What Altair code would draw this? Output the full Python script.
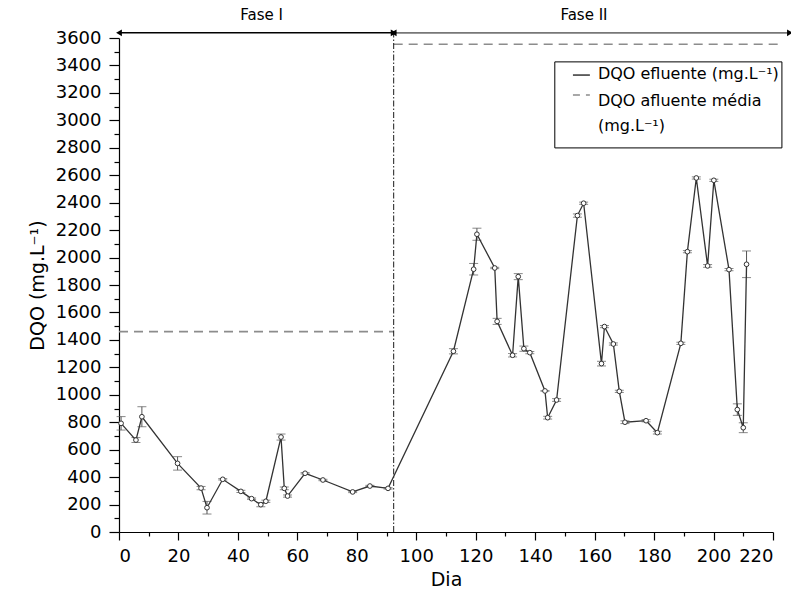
import altair as alt
import pandas as pd

# ---- data ----
dias = [0.7, 5.7, 7.7, 19.7, 27.6, 29.6, 34.9, 41.0, 44.6, 47.7,
        49.4, 54.5, 55.6, 56.7, 62.6, 68.6, 78.6, 84.4, 90.5,
        112.5, 119.3, 120.4, 126.4, 127.2, 132.4, 134.3, 136.2, 138.2, 143.3,
        144.2, 147.2, 154.2, 156.3, 162.3, 163.3, 166.3, 168.3, 170.2, 177.3,
        181.1, 189.0, 191.2, 194.2, 198.0, 200.1, 205.2, 208.0, 210.0, 211.1]
dqo = [792, 670, 840, 500, 320, 177, 384, 296, 243, 199,
       224, 692, 318, 262, 428, 379, 292, 335, 318,
       1317, 1915, 2170, 1924, 1535, 1288, 1861, 1336, 1307, 1028,
       833, 962, 2306, 2396, 1227, 1497, 1370, 1025, 800, 811,
       724, 1375, 2043, 2580, 1939, 2563, 1912, 892, 760, 1951]
erro = [49, 18, 73, 49, 12, 46, 5, 8, 5, 15,
        8, 22, 10, 8, 5, 5, 5, 5, 5,
        19, 42, 44, 5, 22, 12, 22, 19, 8, 0,
        10, 10, 12, 8, 17, 8, 8, 8, 10, 8,
        10, 8, 8, 8, 10, 8, 8, 42, 36, 97]

fase_limite = 92.4
media_x = [0, fase_limite, fase_limite, 223]
media_y = [1460, 1460, 3555, 3555]
media_grupo = ["I", "I", "II", "II"]

seta_y = 3638
seta_x = [0, fase_limite, fase_limite, 225.7]
seta_grupo = ["I", "I", "II", "II"]
seta_forma = ["triangle-left", "triangle-right", "triangle-left", "triangle-right"]

fase_rotulos = ["Fase I", "Fase II"]
fase_rot_x = [48, 156.4]
fase_rot_y = 3765

# legend box (in data units)
leg_x = [146.6, 223]
leg_y = [3426, 2799]
leg_amostra_x = [152.7, 158.4]
leg_amostra_y = [3330, 3185]
leg_texto_x = 161.1
leg_textos = ["DQO efluente (mg.L⁻¹)", "DQO afluente média", "(mg.L⁻¹)"]
leg_texto_y = [3335, 3140, 2960]

FONT = "DejaVu Sans"

df = pd.DataFrame({"dia": dias, "dqo": dqo, "erro": erro})
df["lo"] = df["dqo"] - df["erro"]
df["hi"] = df["dqo"] + df["erro"]

xs = alt.Scale(domain=[0, 220], nice=False, zero=False)
ys = alt.Scale(domain=[0, 3600], nice=False, zero=False)


def X(field, axis=None):
    return alt.X(field, type="quantitative", scale=xs, axis=axis)


def Y(field, axis=None):
    return alt.Y(field, type="quantitative", scale=ys, axis=axis)


x_axis_major = alt.Axis(values=list(range(0, 221, 20)), title="Dia", orient="bottom", format="d",
                        tickSize=8, labelPadding=7, titlePadding=5, labelFontSize=18)
x_axis_minor = alt.Axis(values=list(range(10, 221, 20)), title=None, labels=False,
                        domain=False, orient="bottom", tickSize=4)
y_axis_major = alt.Axis(values=list(range(0, 3601, 200)), title="DQO (mg.L⁻¹)", orient="left", format="d",
                        tickSize=10, labelPadding=8, titlePadding=8, labelFontSize=18)
y_axis_minor = alt.Axis(values=list(range(100, 3601, 200)), title=None, labels=False,
                        domain=False, orient="left", tickSize=5)

base = alt.Chart(df)

# axes carriers
axes_major = base.mark_point(opacity=0).encode(x=X("dia", x_axis_major), y=Y("dqo", y_axis_major))
axes_minor = base.mark_point(opacity=0).encode(x=X("dia", x_axis_minor), y=Y("dqo", y_axis_minor))

# mean influent lines
df_media = pd.DataFrame({"dia": media_x, "v": media_y, "g": media_grupo})
medias = alt.Chart(df_media).mark_line(color="#8c8c8c", strokeDash=[9, 6], strokeWidth=1.6).encode(
    x=X("dia"), y=Y("v"), detail="g:N")

# phase divider
df_div = pd.DataFrame({"dia": [fase_limite], "a": [0], "b": [seta_y]})
divisor = alt.Chart(df_div).mark_rule(color="black", strokeDash=[6, 2, 1.5, 2], strokeWidth=0.9, clip=False).encode(
    x=X("dia"), y=Y("a"), y2="b:Q")

# error bars
barras = base.mark_rule(color="#555555", strokeWidth=1).encode(x=X("dia"), y=Y("lo"), y2="hi:Q")
cap_lo = base.mark_tick(orient="horizontal", color="#555555", size=9, thickness=1).encode(x=X("dia"), y=Y("lo"))
cap_hi = base.mark_tick(orient="horizontal", color="#555555", size=9, thickness=1).encode(x=X("dia"), y=Y("hi"))

linha = base.mark_line(color="#333333", strokeWidth=1.3).encode(x=X("dia"), y=Y("dqo"))
pontos = base.mark_point(shape="circle", size=22, filled=True, fill="white", stroke="#333333",
                         strokeWidth=1, opacity=1).encode(x=X("dia"), y=Y("dqo"))

# phase arrows
df_seta = pd.DataFrame({"dia": seta_x, "v": [seta_y] * 4, "g": seta_grupo, "forma": seta_forma})
seta1 = alt.Chart(df_seta[df_seta.g == "I"]).mark_line(color="black", strokeWidth=1.4, clip=False).encode(
    x=X("dia"), y=Y("v"))
seta2 = alt.Chart(df_seta[df_seta.g == "II"]).mark_line(color="#777777", strokeWidth=1.8, clip=False).encode(
    x=X("dia"), y=Y("v"))
pontas = alt.Chart(df_seta).mark_point(filled=True, color="black", size=45, opacity=1, clip=False).encode(
    x=X("dia"), y=Y("v"),
    shape=alt.Shape("forma:N", scale=alt.Scale(domain=["triangle-left", "triangle-right"],
                                                 range=["triangle-left", "triangle-right"]), legend=None))

df_rot = pd.DataFrame({"dia": fase_rot_x, "v": [fase_rot_y] * 2, "t": fase_rotulos})
rotulos = alt.Chart(df_rot).mark_text(font=FONT, fontSize=15, color="black", clip=False).encode(
    x=X("dia"), y=Y("v"), text="t:N")

# legend
df_leg = pd.DataFrame({"x1": [leg_x[0]], "x2": [leg_x[1]], "y1": [leg_y[0]], "y2": [leg_y[1]]})
caixa = alt.Chart(df_leg).mark_rect(fill="white", stroke="black", strokeWidth=1).encode(
    x=X("x1"), x2="x2:Q", y=Y("y1"), y2="y2:Q")
df_am = pd.DataFrame({"x1": [leg_amostra_x[0]] * 2, "x2": [leg_amostra_x[1]] * 2, "y": leg_amostra_y,
                      "k": ["a", "b"]})
am1 = alt.Chart(df_am[df_am.k == "a"]).mark_rule(color="black", strokeWidth=1.2).encode(
    x=X("x1"), x2="x2:Q", y=Y("y"))
am2 = alt.Chart(df_am[df_am.k == "b"]).mark_rule(color="#8c8c8c", strokeWidth=1.6, strokeDash=[7, 6]).encode(
    x=X("x1"), x2="x2:Q", y=Y("y"))
df_lt = pd.DataFrame({"x": [leg_texto_x] * 3, "y": leg_texto_y, "t": leg_textos})
leg_txt = alt.Chart(df_lt).mark_text(font=FONT, fontSize=16, align="left", baseline="middle",
                                     color="black").encode(x=X("x"), y=Y("y"), text="t:N")

chart = alt.layer(
    axes_major, axes_minor, medias, divisor, barras, cap_lo, cap_hi, linha, pontos,
    seta1, seta2, pontas, rotulos, caixa, am1, am2, leg_txt
).resolve_axis(x="independent", y="independent").resolve_scale(x="shared", y="shared").properties(
    width=654, height=494,
    autosize=alt.AutoSizeParams(type="none"),
    padding={"left": 119, "top": 38, "right": 18, "bottom": 62},
).configure_view(stroke=None).configure_axis(
    grid=False, domainColor="black", tickColor="black", labelColor="black", titleColor="black",
    labelFont=FONT, titleFont=FONT, labelFontSize=18, titleFontSize=19, titleFontWeight="normal",
    domainWidth=1.2, tickWidth=1.2
)

chart.save("out.html", embed_options={"renderer": "svg", "actions": False})
